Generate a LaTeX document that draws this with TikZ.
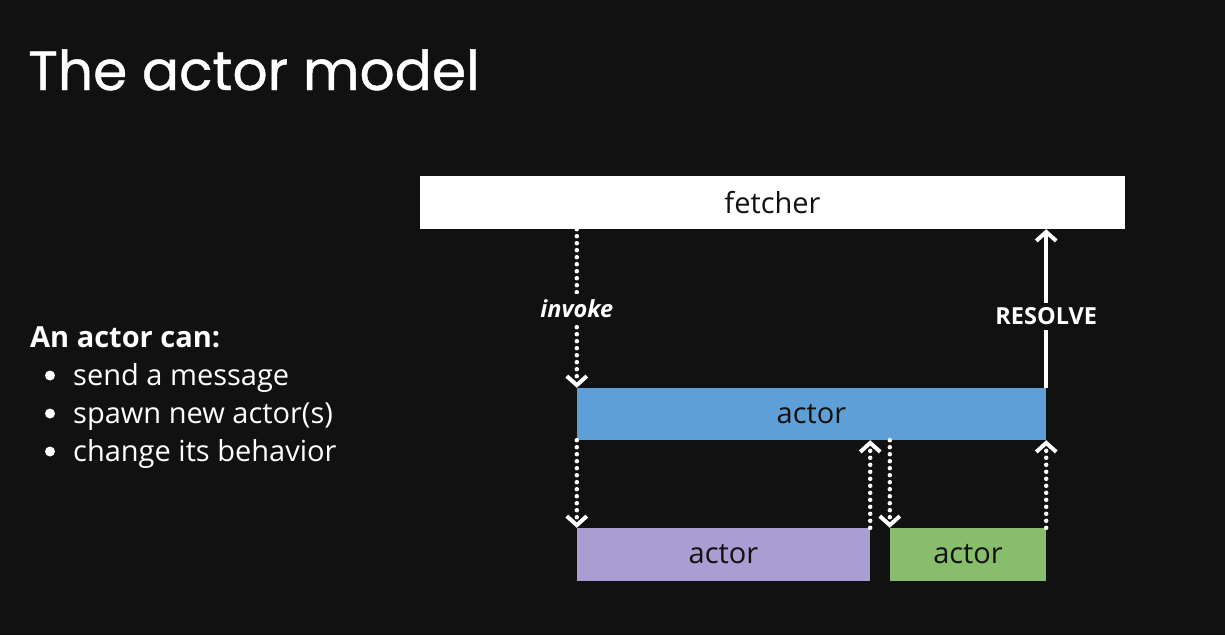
\documentclass[tikz,border=0pt]{standalone}
\usepackage{fontspec}
\setmainfont{Open Sans}
\newfontfamily\titlefont[FakeBold=0.8]{Poppins}
\usetikzlibrary{arrows.meta}
\definecolor{bg}{HTML}{111111}
\definecolor{ink}{HTML}{111111}
\definecolor{actblue}{HTML}{5F9FD7}
\definecolor{actpurple}{HTML}{A99DD1}
\definecolor{actgreen}{HTML}{88BD6C}
\tikzset{
  box/.style={draw=none, inner sep=0pt, text=ink, font=\fontsize{29}{32}\selectfont},
  msgline/.style={white, line width=4pt, -{Straight Barb[length=9pt, width=20pt, line width=4pt]}},
  dotmsg/.style={msgline, line width=4.5pt, line cap=round, dash pattern=on 0pt off 7pt},
  msglabel/.style={fill=bg, text=white, inner sep=5pt, font=\fontsize{23.5}{26}\selectfont\bfseries},
  listtext/.style={anchor=base west, text=white, inner sep=0pt, font=\fontsize{29}{32}\selectfont},
}
\begin{document}
\begin{tikzpicture}[x=1pt, y=-1pt]
  \fill[bg] (0,0) rectangle (1225,635);
  \useasboundingbox (0,0) rectangle (1225,635);

  % heading
  \node[anchor=base west, text=white, inner sep=0pt, font=\fontsize{55}{58}\selectfont\titlefont] (title) at (28,90) {The actor model};

  % capabilities list
  \node[listtext, font=\fontsize{29}{32}\selectfont\bfseries] (lead) at (30,347) {An actor can:};
  \node[listtext] (item1) at (73,385) {send a message};
  \node[listtext] (item2) at (73,423) {spawn new actor(s)};
  \node[listtext] (item3) at (73,461) {change its behavior};
  \foreach \i in {1,2,3} \fill[white] ([xshift=-23pt, yshift=9.5pt]item\i.base west) circle (5pt);

  % boxes
  \node[box, fill=white, minimum width=705pt, minimum height=53pt] (fetcher) at (772.5,202.5) {fetcher};
  \node[box, fill=actblue, minimum width=469pt, minimum height=52pt] (blue) at (811.5,414) {\raisebox{-2pt}{actor}};
  \node[box, fill=actpurple, minimum width=293pt, minimum height=53pt] (purple) at (723.5,554.5) {\raisebox{-2pt}{actor}};
  \node[box, fill=actgreen, minimum width=156pt, minimum height=53pt] (green) at (968,554.5) {\raisebox{-2pt}{actor}};

  % messages
  \draw[dotmsg] (fetcher.south -| blue.west) -- node[msglabel, font=\fontsize{23.5}{26}\selectfont\bfseries\itshape, pos=0.5] {invoke} (blue.north west);
  \draw[msgline] (blue.north east) -- node[msglabel, pos=0.45] {RESOLVE} (fetcher.south -| blue.east);
  \draw[dotmsg] (blue.south west) -- (purple.north west);
  \draw[dotmsg] (purple.north east) -- (purple.north east |- blue.south);
  \draw[dotmsg] (green.north west |- blue.south) -- (green.north west);
  \draw[dotmsg] (green.north east) -- (blue.south east);
\end{tikzpicture}
\end{document}
